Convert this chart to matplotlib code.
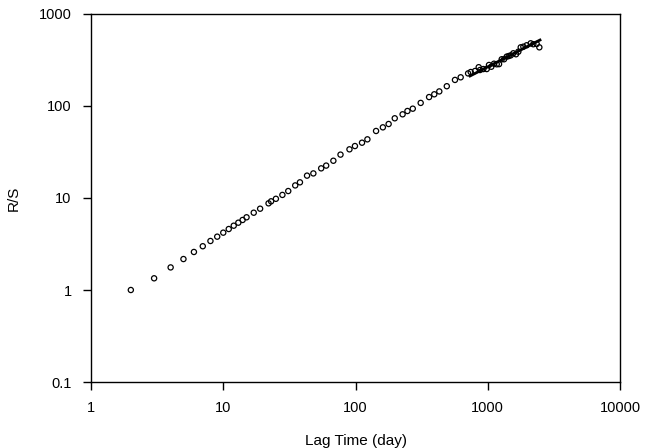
import matplotlib
matplotlib.use("Agg")
import matplotlib.pyplot as plt
from matplotlib.ticker import FixedLocator, FixedFormatter, NullLocator

plt.rcParams['font.family'] = ['Liberation Sans', 'DejaVu Sans']

# R/S analysis points
lag = [2, 3, 4, 5, 6, 7, 8, 9, 10, 11, 12, 13, 14, 15, 17, 19, 22, 23, 25, 28,
       31, 35, 38, 43, 48, 55, 60, 68, 77, 90, 99, 112, 123, 143, 161, 178, 198,
       227, 247, 271, 311, 360, 394, 430, 490, 565, 624, 710,
       743, 801, 854, 874, 926, 982, 1021, 1064, 1115, 1169, 1217, 1275, 1328,
       1391, 1440, 1491, 1560, 1635, 1703, 1775, 1858, 1969, 2112, 2210, 2344, 2455]
rs = [1.0, 1.34, 1.76, 2.17, 2.59, 2.99, 3.41, 3.80, 4.20, 4.60, 5.0, 5.39, 5.77,
      6.17, 6.92, 7.65, 8.75, 9.2, 9.8, 10.8, 11.9, 13.7, 14.8, 17.5, 18.5, 21,
      22.5, 25.4, 29.6, 33.8, 36.7, 39.9, 43.4, 53.5, 58.6, 63.7, 73.5, 81.2, 88.2,
      93.5, 108, 125, 134, 144, 164, 192, 205, 226,
      234, 240, 264, 246, 252, 252, 279, 267, 288, 284, 285, 322, 322, 344, 349,
      355, 374, 365, 389, 434, 441, 457, 480, 469, 472, 434]

# fitted line over the long-lag range
fit_lag = [735, 2483]
fit_rs = [212, 521]

xticks = [1, 10, 100, 1000, 10000]
xlabels = ['1', '10', '100', '1000', '10000']
yticks = [0.1, 1, 10, 100, 1000]
ylabels = ['0.1', '1', '10', '100', '1000']

fig = plt.figure(figsize=(6.51, 4.48), dpi=100)
ax = fig.add_axes([0.1398, 0.1473, 0.8126, 0.8215])

ax.scatter(lag, rs, s=14, facecolors='none', edgecolors='black', linewidths=0.9, zorder=3)
ax.plot(fit_lag, fit_rs, color='black', linewidth=2, zorder=4)

ax.set_xscale('log')
ax.set_yscale('log')
ax.set_xlim(1, 10000)
ax.set_ylim(0.1, 1000)

ax.xaxis.set_major_locator(FixedLocator(xticks))
ax.xaxis.set_major_formatter(FixedFormatter(xlabels))
ax.yaxis.set_major_locator(FixedLocator(yticks))
ax.yaxis.set_major_formatter(FixedFormatter(ylabels))
ax.xaxis.set_minor_locator(NullLocator())
ax.yaxis.set_minor_locator(NullLocator())

ax.tick_params(direction='out', length=6, width=1, labelsize=10.5, pad=8)
for sp in ax.spines.values():
    sp.set_linewidth(1)

ax.set_xlabel('Lag Time (day)', fontsize=11, labelpad=13)
ax.set_ylabel('R/S', fontsize=11, labelpad=13)

fig.savefig('out.png', dpi=100)
